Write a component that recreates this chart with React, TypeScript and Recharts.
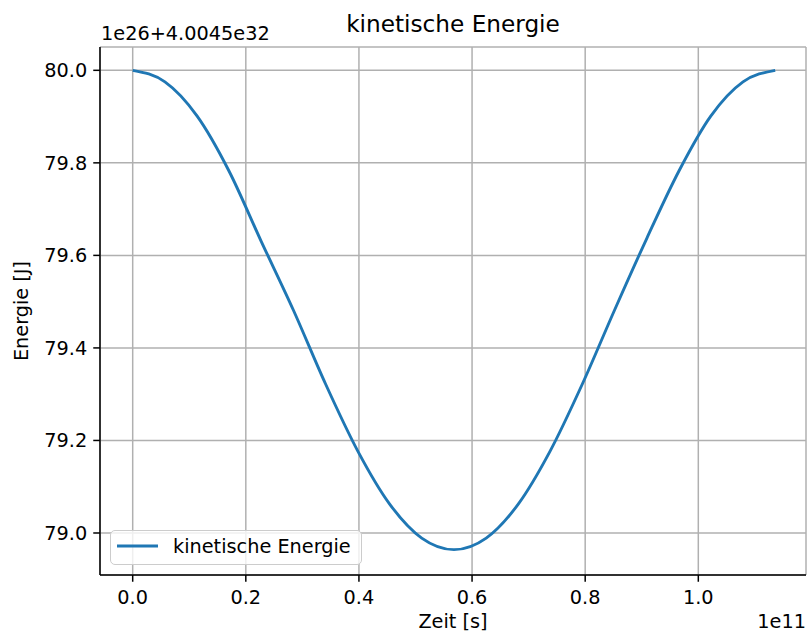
import React from 'react';
import { LineChart, Line, XAxis, YAxis, CartesianGrid } from 'recharts';

// Zeit in units of 1e11 s
const zeit: number[] = [0.000, 0.057, 0.114, 0.170, 0.227, 0.284, 0.341, 0.398, 0.454, 0.511, 0.568, 0.625, 0.682, 0.738, 0.795, 0.852, 0.909, 0.966, 1.022, 1.079, 1.136];
// kinetische Energie, offset 1e26+4.0045e32
const energie: number[] = [80.000, 79.975, 79.901, 79.783, 79.631, 79.482, 79.322, 79.177, 79.063, 78.989, 78.964, 78.989, 79.063, 79.177, 79.322, 79.482, 79.637, 79.783, 79.901, 79.975, 80.000];

const xTicks: number[] = [0, 0.2, 0.4, 0.6, 0.8, 1.0];
const yTicks: number[] = [79.0, 79.2, 79.4, 79.6, 79.8, 80.0];

const seriesName = 'kinetische Energie';
const titleText = 'kinetische Energie';
const xLabel = 'Zeit [s]';
const yLabel = 'Energie [J]';
const yOffsetText = '1e26+4.0045e32';
const xOffsetText = '1e11';

const data = zeit.map((t, i) => ({ t, e: energie[i] }));

const FONT = 'DejaVu Sans';
const FS = 19.3;
const TXT = '#000';

export default function App() {
  return (
    <div style={{ position: 'absolute', left: 0, top: 0, width: 807, height: 637, background: '#fff', fontFamily: FONT }}>
      <LineChart width={807} height={637} data={data} margin={{ top: 47, right: 1, bottom: 0, left: 0 }}>
        <CartesianGrid stroke="#b0b0b0" strokeWidth={1.5} />
        <XAxis
          dataKey="t"
          type="number"
          domain={[-0.0578, 1.1904]}
          allowDataOverflow
          ticks={xTicks}
          tickFormatter={(v: number) => v.toFixed(1)}
          height={62}
          tickSize={6.75}
          tickMargin={9}
          axisLine={{ stroke: '#000', strokeWidth: 1.5 }}
          tickLine={{ stroke: '#000', strokeWidth: 1.5 }}
          tick={{ fill: TXT, fontSize: FS, fontFamily: FONT }}
          interval={0}
        />
        <XAxis
          xAxisId="top"
          orientation="top"
          type="number"
          domain={[-0.0578, 1.1904]}
          height={0}
          tick={false}
          tickLine={false}
          axisLine={{ stroke: '#000', strokeWidth: 1.5 }}
        />
        <YAxis
          type="number"
          domain={[78.9092, 80.0504]}
          allowDataOverflow
          ticks={yTicks}
          tickFormatter={(v: number) => v.toFixed(1)}
          width={100}
          tickSize={6.75}
          tickMargin={6}
          axisLine={{ stroke: '#000', strokeWidth: 1.5 }}
          tickLine={{ stroke: '#000', strokeWidth: 1.5 }}
          tick={{ fill: TXT, fontSize: FS, fontFamily: FONT }}
          interval={0}
        />
        <YAxis
          yAxisId="right"
          orientation="right"
          type="number"
          domain={[78.9092, 80.0504]}
          width={0}
          tick={false}
          tickLine={false}
          axisLine={{ stroke: '#000', strokeWidth: 1.5 }}
        />
        <Line
          type="monotone"
          dataKey="e"
          name={seriesName}
          stroke="#1f77b4"
          strokeWidth={2.9}
          dot={false}
          activeDot={false}
          isAnimationActive={false}
        />
      </LineChart>
      <svg width={807} height={637} style={{ position: 'absolute', left: 0, top: 0, pointerEvents: 'none' }}>
        <text x={453} y={32} textAnchor="middle" fontSize={23.2} fontFamily={FONT} fill={TXT}>{titleText}</text>
        <text x={101} y={39.5} textAnchor="start" fontSize={FS} fontFamily={FONT} fill={TXT}>{yOffsetText}</text>
        <text x={453} y={628} textAnchor="middle" fontSize={FS} fontFamily={FONT} fill={TXT}>{xLabel}</text>
        <text x={806} y={628} textAnchor="end" fontSize={FS} fontFamily={FONT} fill={TXT}>{xOffsetText}</text>
        <text x={28} y={311} textAnchor="middle" fontSize={FS} fontFamily={FONT} fill={TXT} transform="rotate(-90 28 311)">{yLabel}</text>
      </svg>
      <div
        style={{
          position: 'absolute',
          left: 110,
          top: 530,
          width: 250,
          height: 33,
          border: '1.5px solid #cccccc',
          borderRadius: 5,
          background: 'rgba(255,255,255,0.8)',
          boxSizing: 'content-box',
        }}
      >
        <svg width={250} height={33} style={{ position: 'absolute', left: 0, top: 0 }}>
          <line x1={6} y1={15} x2={47} y2={15} stroke="#1f77b4" strokeWidth={2.9} />
          <text x={62} y={22} fontSize={FS} fontFamily={FONT} fill={TXT}>{seriesName}</text>
        </svg>
      </div>
    </div>
  );
}
